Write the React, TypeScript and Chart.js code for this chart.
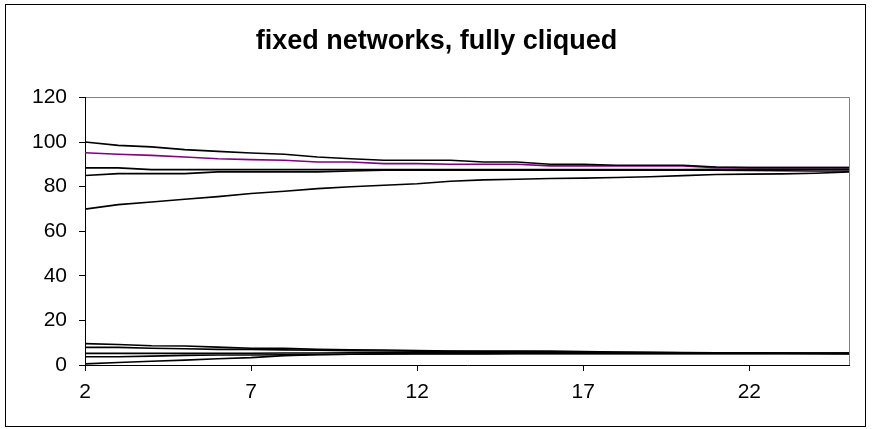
import React, { useEffect, useRef } from 'react';
import { Chart, registerables } from 'chart.js';

Chart.register(...registerables);

const titleText = 'fixed networks, fully cliqued';
const xValues = [2, 3, 4, 5, 6, 7, 8, 9, 10, 11, 12, 13, 14, 15, 16, 17, 18, 19, 20, 21, 22, 23, 24, 25];
const xTicks = [2, 7, 12, 17, 22];
const yTickStep = 20;

const seriesTop = [100, 98.5, 97.8, 96.6, 95.8, 95.1, 94.5, 93.3, 92.5, 91.8, 91.8, 91.8, 91, 91, 90, 90, 89.6, 89.6, 89.6, 88.8, 88.5, 88.5, 88.5, 88.5];
const seriesPurple = [95.2, 94.5, 94, 93.3, 92.5, 92.1, 91.8, 91, 91, 90.3, 90.3, 90, 90, 90, 89.3, 89.3, 89.3, 89.3, 89.3, 88.5, 88.5, 88.5, 88.5, 88.5];
const seriesFlat88 = [88.4, 88.4, 87.6, 87.6, 87.6, 87.6, 87.6, 87.6, 87.6, 87.6, 87.6, 87.6, 87.6, 87.6, 87.6, 87.6, 87.6, 87.6, 87.6, 87.8, 87.8, 87.8, 87.8, 87.8];
const seriesRise85 = [85, 85.8, 85.8, 85.8, 86.6, 86.6, 86.6, 86.6, 87, 87.3, 87.3, 87.3, 87.3, 87.3, 87.3, 87.3, 87.3, 87.3, 87.3, 87.3, 87.2, 87.1, 87, 87];
const seriesRise70 = [69.9, 71.9, 73.1, 74.3, 75.5, 76.9, 77.9, 79.1, 79.9, 80.6, 81.3, 82.4, 83, 83.3, 83.6, 83.8, 84.1, 84.4, 84.9, 85.4, 85.6, 85.7, 86, 86.6];

const seriesLow10 = [9.6, 9.2, 8.6, 8.5, 8.0, 7.5, 7.5, 7.0, 6.8, 6.7, 6.5, 6.3, 6.3, 6.3, 6.2, 6.0, 5.8, 5.7, 5.6, 5.5, 5.5, 5.4, 5.3, 5.2];
const seriesLow8 = [7.9, 7.9, 7.5, 7.3, 7.0, 7.0, 6.8, 6.6, 6.4, 6.3, 6.2, 6.1, 6.0, 6.0, 5.9, 5.8, 5.7, 5.6, 5.5, 5.5, 5.4, 5.3, 5.3, 5.2];
const seriesLow5 = [5.2, 5.2, 5.2, 5.2, 5.3, 5.3, 5.4, 5.4, 5.5, 5.5, 5.5, 5.5, 5.5, 5.5, 5.5, 5.5, 5.4, 5.4, 5.4, 5.3, 5.3, 5.3, 5.2, 5.2];
const seriesLow4 = [3.7, 3.7, 4.0, 4.3, 4.5, 4.5, 4.6, 4.7, 4.8, 4.9, 5.0, 5.0, 5.0, 5.1, 5.1, 5.1, 5.1, 5.1, 5.1, 5.1, 5.1, 5.1, 5.1, 5.1];
const seriesLow1 = [0.5, 1.1, 1.7, 2.2, 2.8, 3.3, 4.2, 4.6, 4.8, 5.0, 5.2, 5.2, 5.2, 5.2, 5.2, 5.2, 5.2, 5.2, 5.2, 5.2, 5.2, 5.2, 5.2, 5.2];

const FONT = "'Liberation Sans', Arial, sans-serif";

const toPoints = (vals: number[]) => xValues.map((x, i) => ({ x, y: vals[i] }));

const framePlugin = {
  id: 'frame',
  beforeDraw(chart: any) {
    const ctx = chart.ctx;
    ctx.save();
    ctx.fillStyle = '#ffffff';
    ctx.fillRect(0, 0, chart.width, chart.height);
    ctx.strokeStyle = '#000000';
    ctx.lineWidth = 1;
    ctx.strokeRect(5.5, 4.5, 860, 422);
    const a = chart.chartArea;
    ctx.strokeStyle = '#808080';
    ctx.beginPath();
    ctx.moveTo(a.left, Math.round(a.top) + 0.5);
    ctx.lineTo(Math.round(a.right) + 0.5, Math.round(a.top) + 0.5);
    ctx.lineTo(Math.round(a.right) + 0.5, a.bottom);
    ctx.stroke();
    ctx.restore();
  },
};

export default function App() {
  const ref = useRef<HTMLCanvasElement | null>(null);

  useEffect(() => {
    if (!ref.current) return;
    const mk = (data: number[], color: string) => ({
      data: toPoints(data),
      borderColor: color,
      backgroundColor: color,
      borderWidth: 1.6,
      pointRadius: 0,
      tension: 0,
      fill: false,
    });
    const chart = new Chart(ref.current, {
      type: 'line',
      data: {
        datasets: [
          mk(seriesTop, '#000000'),
          mk(seriesPurple, '#800080'),
          mk(seriesFlat88, '#000000'),
          mk(seriesRise85, '#000000'),
          mk(seriesRise70, '#000000'),
          mk(seriesLow10, '#000000'),
          mk(seriesLow8, '#000000'),
          mk(seriesLow5, '#000000'),
          mk(seriesLow4, '#000000'),
          mk(seriesLow1, '#000000'),
        ],
      },
      options: {
        responsive: false,
        animation: false,
        devicePixelRatio: 1,
        layout: { padding: { left: 24, right: 24, top: 0, bottom: 0 } },
        plugins: {
          legend: { display: false },
          tooltip: { enabled: false },
          title: {
            display: true,
            text: titleText,
            color: '#000000',
            font: { family: FONT, size: 27, weight: 'bold' },
            padding: { top: 25, bottom: 40 },
          },
        },
        scales: {
          x: {
            type: 'linear',
            min: 2,
            max: 25,
            afterBuildTicks: (s: any) => {
              s.ticks = xTicks.map((v) => ({ value: v }));
            },
            afterFit: (s: any) => {
              s.height = 64;
            },
            grid: { drawOnChartArea: false, drawTicks: true, tickLength: 6, color: '#000000' },
            border: { color: '#000000', width: 1 },
            ticks: {
              color: '#000000',
              font: { family: FONT, size: 21 },
              padding: 9,
              maxRotation: 0,
              autoSkip: false,
            },
          },
          y: {
            min: 0,
            max: 120,
            afterFit: (s: any) => {
              s.width = 61;
            },
            grid: { drawOnChartArea: false, drawTicks: true, tickLength: 6, color: '#000000' },
            border: { color: '#000000', width: 1 },
            ticks: {
              stepSize: yTickStep,
              color: '#000000',
              font: { family: FONT, size: 21 },
              padding: 12,
            },
          },
        },
      },
      plugins: [framePlugin],
    } as any);
    return () => chart.destroy();
  }, []);

  return (
    <div style={{ position: 'absolute', left: 0, top: 0, width: 873, height: 429 }}>
      <canvas ref={ref} width={873} height={429} style={{ width: 873, height: 429 }} />
    </div>
  );
}
